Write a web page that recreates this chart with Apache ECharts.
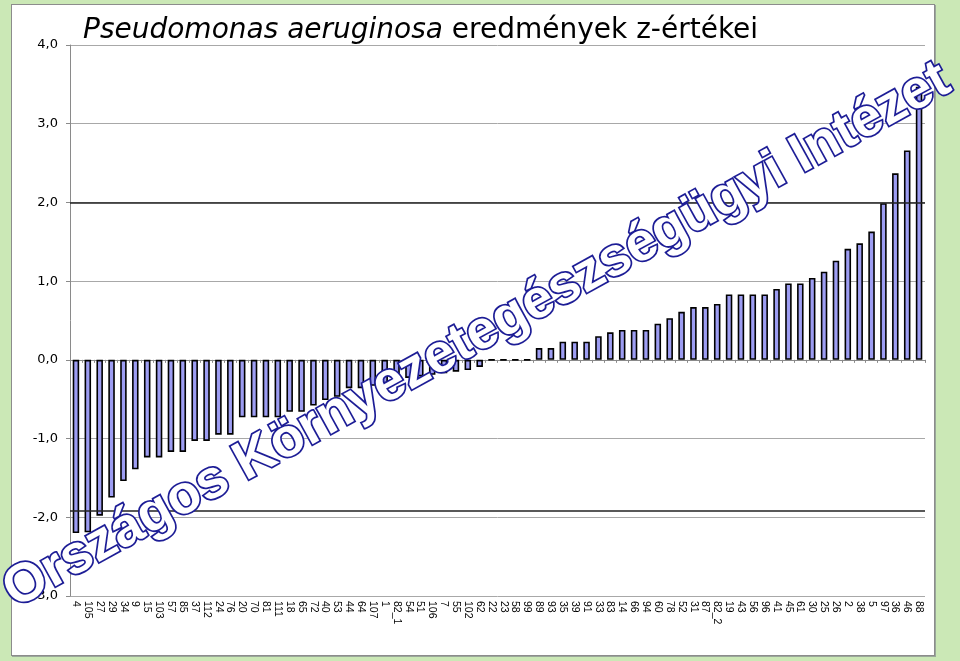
<!DOCTYPE html>
<html>
<head>
<meta charset="utf-8">
<script src="https://cdn.jsdelivr.net/npm/echarts@6/dist/echarts.min.js"></script>
<style>
html,body{margin:0;padding:0;background:#cbe8b6;}
#frame{position:absolute;left:11px;top:4px;width:922px;height:650px;background:#fff;border:1px solid #8c8c8c;box-shadow:1px 1px 0 #9aa89a;}
#chart{position:absolute;left:0;top:0;width:960px;height:661px;}
</style>
</head>
<body>
<div id="frame"></div>
<div id="chart"></div>
<script>
const categories = ['4','105','27','29','34','9','15','103','57','85','37','112','24','76','20','70','81','111','18','65','72','40','53','44','64','107','1','82_1','54','51','106','7','55','102','62','22','23','58','99','89','93','35','39','91','33','83','14','66','94','60','78','52','31','87','82_2','19','43','56','96','41','45','61','30','25','26','2','38','5','97','36','46','88'];
const zValues = [-2.20,-2.19,-1.98,-1.75,-1.54,-1.39,-1.24,-1.24,-1.17,-1.17,-1.03,-1.03,-0.95,-0.95,-0.73,-0.73,-0.73,-0.73,-0.66,-0.66,-0.58,-0.51,-0.47,-0.36,-0.36,-0.33,-0.30,-0.27,-0.23,-0.21,-0.19,-0.17,-0.15,-0.13,-0.09,0,0,0,0,0.15,0.15,0.23,0.23,0.23,0.30,0.35,0.38,0.38,0.38,0.46,0.53,0.61,0.67,0.67,0.71,0.83,0.83,0.83,0.83,0.90,0.97,0.97,1.04,1.12,1.26,1.41,1.48,1.63,1.99,2.37,2.66,3.47];
const refLines = [2, -1.92];
const yTicks = {min: -3, max: 4, interval: 1};
const titleItalic = 'Pseudomonas aeruginosa';
const titleNormal = ' eredmények z-értékei';
const watermark = 'Országos Környezetegészségügyi Intézet';

const chart = echarts.init(document.getElementById('chart'), null, {renderer: 'canvas'});
chart.setOption({
  animation: false,
  backgroundColor: 'transparent',
  title: {
    text: '{i|' + titleItalic + '}{n|' + titleNormal + '}',
    left: 78, top: 12,
    textStyle: {
      rich: {
        i: {fontFamily: 'DejaVu Sans', fontStyle: 'italic', fontWeight: 'normal', fontSize: 28, color: '#000'},
        n: {fontFamily: 'DejaVu Sans', fontWeight: 'normal', fontSize: 28, color: '#000'}
      }
    }
  },
  grid: {left: 70, right: 35, top: 45, bottom: 65, containLabel: false},
  xAxis: [
    {
      type: 'category', data: categories, position: 'bottom',
      axisLine: {show: false, onZero: false},
      axisTick: {show: false},
      axisLabel: {interval: 0, rotate: -90, fontSize: 10.5, fontFamily: 'Liberation Sans', color: '#000', margin: 5},
      splitLine: {show: false}
    },
    {
      type: 'category', data: categories, position: 'bottom',
      axisLine: {show: true, onZero: true, lineStyle: {color: '#8a8a8a', width: 1}},
      axisTick: {show: true, length: 3, inside: false, interval: 0, lineStyle: {color: '#8a8a8a'}},
      axisLabel: {show: false},
      splitLine: {show: false}
    }
  ],
  yAxis: {
    type: 'value', min: yTicks.min, max: yTicks.max, interval: yTicks.interval,
    axisLine: {show: true, lineStyle: {color: '#8a8a8a', width: 1}},
    axisTick: {show: true, length: 4, lineStyle: {color: '#8a8a8a'}},
    axisLabel: {
      fontFamily: 'DejaVu Sans', fontSize: 13, color: '#000', margin: 12,
      formatter: v => v.toFixed(1).replace('.', ',')
    },
    splitLine: {show: true, lineStyle: {color: '#a8a8a8', width: 1}}
  },
  series: [{
    type: 'bar', xAxisIndex: 0, data: zValues, barWidth: 6.5,
    itemStyle: {color: '#9d9df2', borderColor: '#000', borderWidth: 1.6},
    markLine: {
      silent: true, symbol: 'none', label: {show: false},
      lineStyle: {color: '#222', width: 1.6, type: 'solid'},
      data: refLines.map(v => ({yAxis: v}))
    }
  }],
  graphic: [{
    type: 'text', z: 100,
    x: 477, y: 336, rotation: 0.505,
    style: {
      text: watermark,
      fontFamily: 'Liberation Sans', fontWeight: 'bold', fontSize: 54.5,
      fill: '#ffffff', stroke: '#1d1d96', lineWidth: 3.5,
      shadowColor: 'rgba(40,40,140,0.45)', shadowBlur: 3, shadowOffsetX: 1.5, shadowOffsetY: 1.5,
      align: 'center', verticalAlign: 'middle'
    }
  }]
});
</script>
</body>
</html>
